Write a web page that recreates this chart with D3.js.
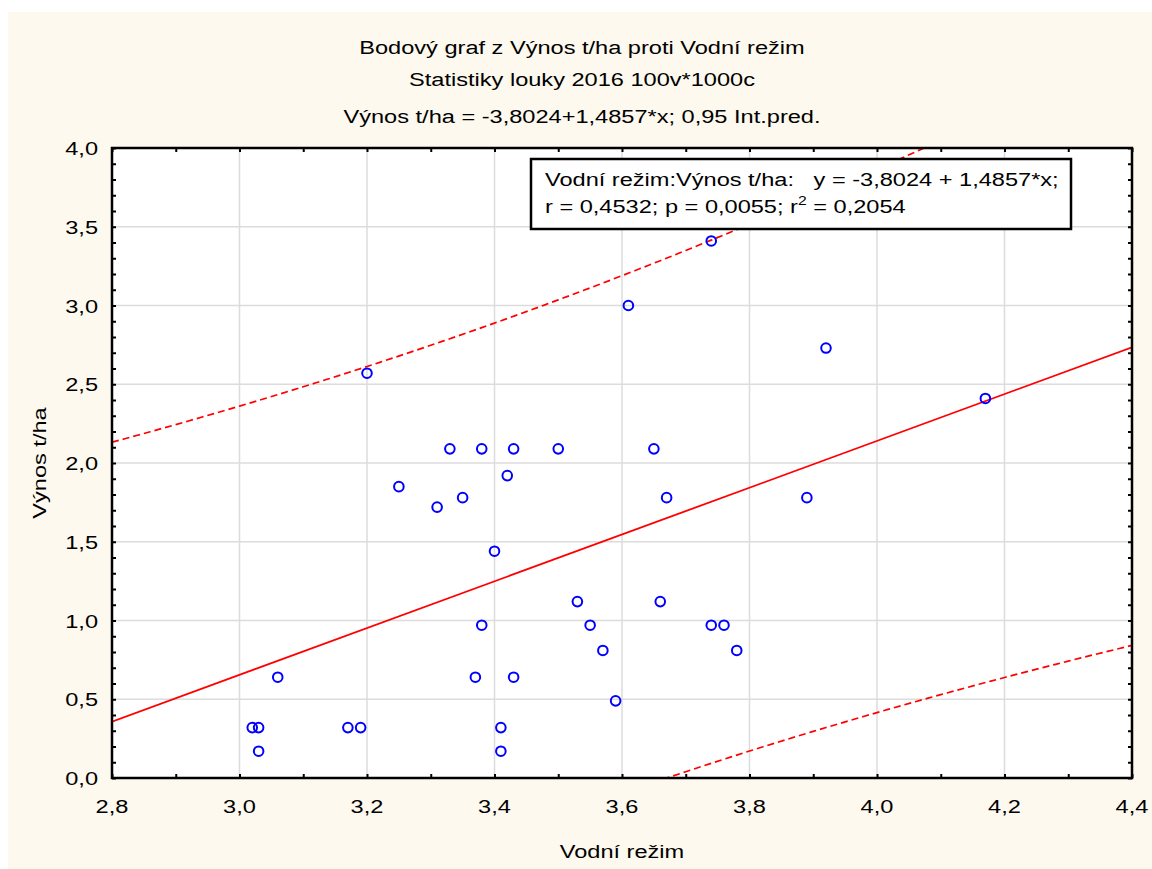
<!DOCTYPE html>
<html>
<head>
<meta charset="utf-8">
<script src="https://cdn.jsdelivr.net/npm/d3@7"></script>
<style>
  html, body { margin: 0; padding: 0; background: #ffffff; }
  svg { display: block; font-family: "Liberation Sans", Arial, sans-serif; }
</style>
</head>
<body>
<svg id="chart" width="1152" height="869"></svg>
<script>
// Water regime (x) and yield t/ha (y) for each plot
const vodniRezim = [3.02, 3.03, 3.03, 3.06, 3.17, 3.19, 3.20, 3.25, 3.31, 3.33, 3.35, 3.37,
                    3.38, 3.38, 3.40, 3.41, 3.41, 3.42, 3.43, 3.43, 3.50, 3.53, 3.55, 3.57,
                    3.59, 3.61, 3.65, 3.66, 3.67, 3.74, 3.74, 3.76, 3.78, 3.89, 3.92, 4.17];
const vynos      = [0.32, 0.32, 0.17, 0.64, 0.32, 0.32, 2.57, 1.85, 1.72, 2.09, 1.78, 0.64,
                    2.09, 0.97, 1.44, 0.32, 0.17, 1.92, 2.09, 0.64, 2.09, 1.12, 0.97, 0.81,
                    0.49, 3.00, 2.09, 1.12, 1.78, 3.41, 0.97, 0.97, 0.81, 1.78, 2.73, 2.41];

// Fitted regression
const intercept = -3.8024;
const slope = 1.4857;
const tCrit = 2.0322;          // t(0.975; df = 34)

const xTicks = [2.8, 3.0, 3.2, 3.4, 3.6, 3.8, 4.0, 4.2, 4.4];
const yTicks = [0.0, 0.5, 1.0, 1.5, 2.0, 2.5, 3.0, 3.5, 4.0];

const titleLines = [
  "Bodový graf z Výnos t/ha proti Vodní režim",
  "Statistiky louky 2016 100v*1000c",
  "Výnos t/ha = -3,8024+1,4857*x; 0,95 Int.pred."
];
const legendLine1 = "Vodní režim:Výnos t/ha:   y = -3,8024 + 1,4857*x;";
const legendLine2 = ["r = 0,4532; p = 0,0055; r", "2", " = 0,2054"];

const svg = d3.select("#chart");
const W = 1152, H = 869;
const pLeft = 112, pRight = 1132, pTop = 148, pBottom = 778;
const FS = 18;      // font size
const SX = 1.31;    // horizontal stretch of the lettering

// text drawn with a wide face: positioned by translate, stretched horizontally
function label(parent, tx, ty, anchor, rot) {
  return parent.append("text")
    .attr("transform", `translate(${tx},${ty})${rot ? ` rotate(${rot})` : ""} scale(${SX},1)`)
    .attr("text-anchor", anchor).attr("font-size", FS).attr("fill", "#000");
}

svg.append("rect").attr("x", 8).attr("y", 12).attr("width", W - 8).attr("height", H - 12)
  .attr("fill", "#fdf9ee");

const x = d3.scaleLinear().domain([2.8, 4.4]).range([pLeft, pRight]);
const y = d3.scaleLinear().domain([0, 4]).range([pBottom, pTop]);

svg.append("rect").attr("x", pLeft).attr("y", pTop).attr("width", pRight - pLeft).attr("height", pBottom - pTop)
  .attr("fill", "#ffffff");

// grid
const grid = svg.append("g").attr("stroke", "#dcdcdc").attr("stroke-width", 1.5);
xTicks.slice(1, -1).forEach(v => grid.append("line")
  .attr("x1", x(v)).attr("x2", x(v)).attr("y1", pTop).attr("y2", pBottom));
yTicks.slice(1, -1).forEach(v => grid.append("line")
  .attr("x1", pLeft).attr("x2", pRight).attr("y1", y(v)).attr("y2", y(v)));

// clip for lines
svg.append("clipPath").attr("id", "plotclip").append("rect")
  .attr("x", pLeft).attr("y", pTop).attr("width", pRight - pLeft).attr("height", pBottom - pTop);

// 95 % prediction interval from the data
const n = vodniRezim.length;
const xMean = d3.mean(vodniRezim);
const sxx = d3.sum(vodniRezim, v => (v - xMean) ** 2);
const sse = d3.sum(vodniRezim, (v, i) => (vynos[i] - (intercept + slope * v)) ** 2);
const s = Math.sqrt(sse / (n - 2));
const halfWidth = v => tCrit * s * Math.sqrt(1 + 1 / n + (v - xMean) ** 2 / sxx);
const xs = d3.range(2.8, 4.4001, 0.02);

const plot = svg.append("g").attr("clip-path", "url(#plotclip)");
const fit = v => intercept + slope * v;
const lineGen = d3.line().x(d => x(d[0])).y(d => y(d[1]));

[1, -1].forEach(sign => plot.append("path")
  .datum(xs.map(v => [v, fit(v) + sign * halfWidth(v)]))
  .attr("d", lineGen).attr("fill", "none").attr("stroke", "#ff0000")
  .attr("stroke-width", 1.7).attr("stroke-dasharray", "7,4"));
plot.append("path")
  .datum([[2.8, fit(2.8)], [4.4, fit(4.4)]])
  .attr("d", lineGen).attr("fill", "none").attr("stroke", "#ff0000").attr("stroke-width", 1.8);

// points
svg.append("g").selectAll("circle").data(vodniRezim).join("circle")
  .attr("cx", d => x(d)).attr("cy", (d, i) => y(vynos[i])).attr("r", 4.8)
  .attr("fill", "none").attr("stroke", "#0000ff").attr("stroke-width", 2);

// inward ticks on all four sides
const minorX = d3.range(2.8, 4.4001, 0.1);
const minorY = d3.range(0, 4.0001, 0.1);
const styleAxis = g => {
  g.select(".domain").remove();
  g.selectAll(".tick line").attr("stroke", "#000").attr("stroke-width", 2);
};
svg.append("g").attr("transform", `translate(0,${pBottom})`)
  .call(d3.axisBottom(x).tickValues(minorX).tickSize(-4).tickFormat("")).call(styleAxis);
svg.append("g").attr("transform", `translate(0,${pTop})`)
  .call(d3.axisTop(x).tickValues(minorX).tickSize(-4).tickFormat("")).call(styleAxis);
svg.append("g").attr("transform", `translate(${pLeft},0)`)
  .call(d3.axisLeft(y).tickValues(minorY).tickSize(-4).tickFormat("")).call(styleAxis);
svg.append("g").attr("transform", `translate(${pRight},0)`)
  .call(d3.axisRight(y).tickValues(minorY).tickSize(-4).tickFormat("")).call(styleAxis);

svg.append("rect").attr("x", pLeft).attr("y", pTop).attr("width", pRight - pLeft).attr("height", pBottom - pTop)
  .attr("fill", "none").attr("stroke", "#000").attr("stroke-width", 2.5);

// tick labels
const fmt = v => d3.format(".1f")(v).replace(".", ",");
const tickG = svg.append("g");
xTicks.forEach(v => label(tickG, x(v), 813, "middle").text(fmt(v)));
yTicks.forEach(v => label(tickG, 98, y(v) + 7, "end").text(fmt(v)));

// axis titles
label(svg, x(3.6), 858, "middle").text("Vodní režim");
label(svg, 46, y(2), "middle", -90).text("Výnos t/ha");

// title block
const titleY = [54, 86, 123];
titleLines.forEach((t, i) => label(svg, 582, titleY[i], "middle").text(t));

// regression legend
svg.append("rect").attr("x", 531).attr("y", 159).attr("width", 540).attr("height", 70)
  .attr("fill", "#fff").attr("stroke", "#000").attr("stroke-width", 2.5);
label(svg, 545, 186, "start").attr("xml:space", "preserve").text(legendLine1);
const l2 = label(svg, 545, 213, "start");
l2.append("tspan").text(legendLine2[0]);
l2.append("tspan").attr("font-size", 12).attr("dy", -8).text(legendLine2[1]);
l2.append("tspan").attr("dy", 8).text(legendLine2[2]);
</script>
</body>
</html>
